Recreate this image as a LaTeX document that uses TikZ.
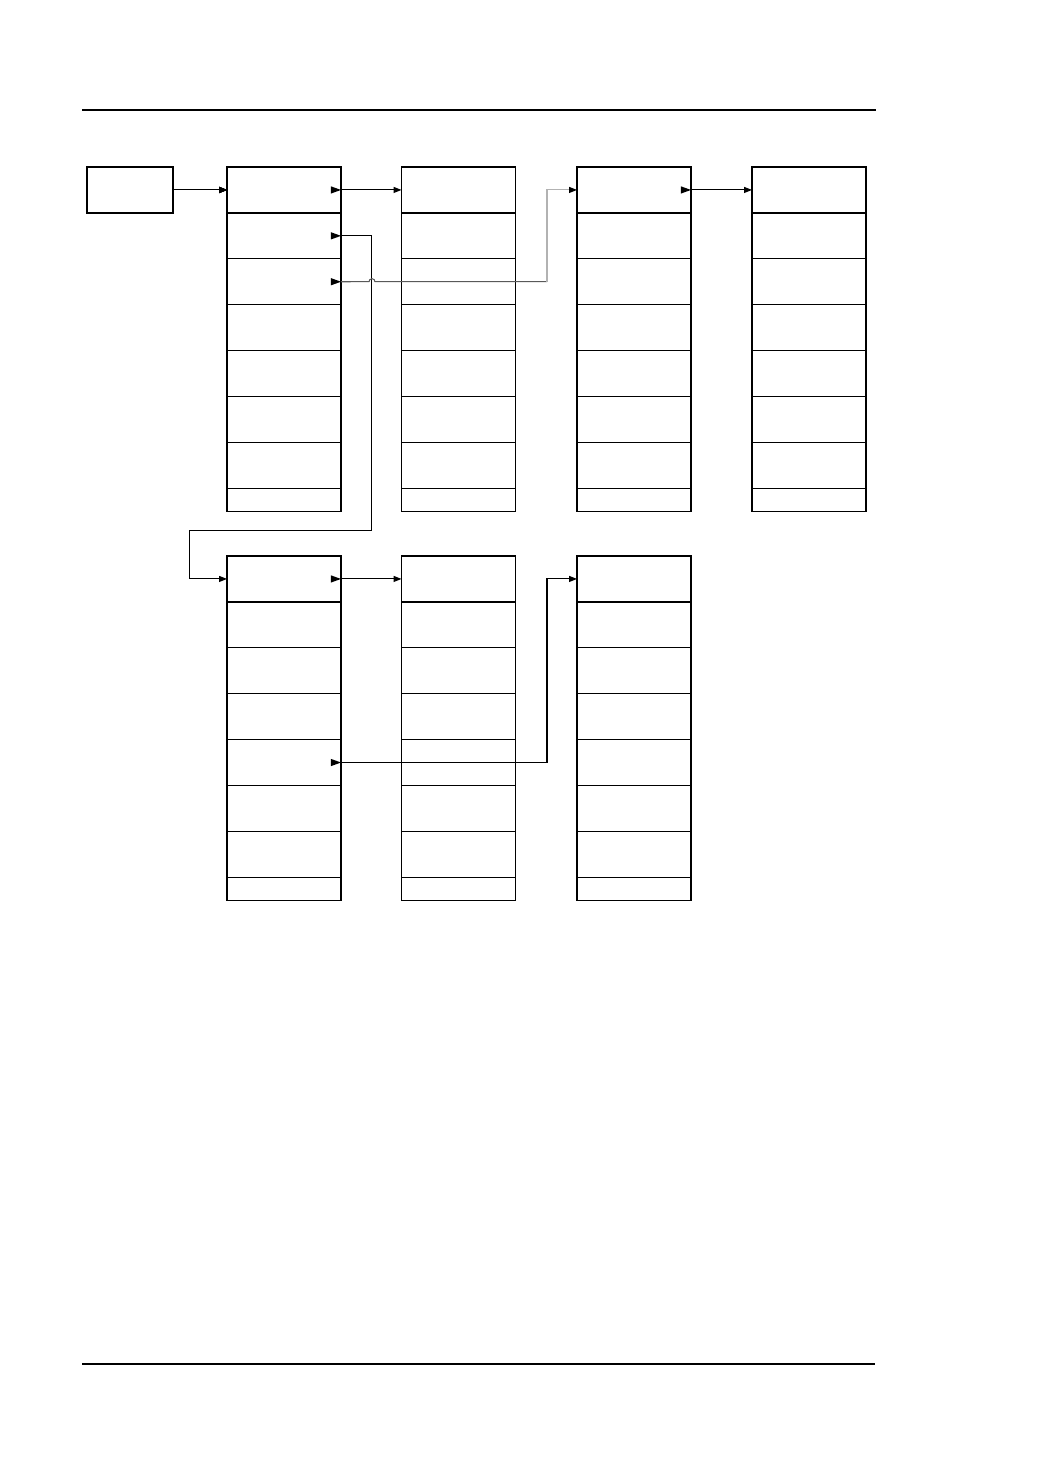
\documentclass[tikz,border=0pt]{standalone}
\usetikzlibrary{positioning}
\usetikzlibrary{arrows, arrows.meta}

\tikzset{
  cell/.style={draw, line width=0.8pt, minimum width=2.28cm, minimum height=0.918cm, inner sep=0pt, outer sep=0pt, anchor=north west},
  tailcell/.style={cell, minimum height=0.46cm},
  headbox/.style={cell, minimum width=1.72cm},
  link/.style={line width=0.6pt, -{Triangle[length=0.16cm, width=0.12cm]}},
}
\newcommand{\ptrmark}[1]{\fill (#1.east) -- ++(-10,3.6) -- ++(0,-7.2) -- cycle;}

\begin{document}
\begin{tikzpicture}[x=0.02cm, y=-0.02cm]
    \useasboundingbox (0,0) rectangle (1043,1474);
    \draw [line width=1.1pt] (82,110) -- (876,110);
    \draw [line width=0.6pt] (82,1364) -- (875,1364);
    % blocks
    \node[headbox] (head) at (87,167) {};
    \foreach \col/\x/\y in {a/227/167, b/401.5/167, c/577/167, d/752/167, e/227/556, f/401.5/556, g/577/556} {
      \node[cell] (\col1) at (\x,\y) {};
      \foreach \r [count=\p] in {2,...,7}
        \node[cell, below=0pt of \col\p] (\col\r) {};
      \node[tailcell, below=0pt of \col7] (\col8) {};
    }
    % pointers
    \foreach \n in {a1, a2, a3, c1, e1, e5} \ptrmark{\n}
    \draw [link] (head.east) -- (a1.west);
    \draw [link] (a1.east) -- (b1.west);
    \draw [link] (c1.east) -- (d1.west);
    \draw [link] (e1.east) -- (f1.west);
    \coordinate (downA) at (371.5,530.5);
    \coordinate (downB) at (189.5,530.5);
    \draw [link] (a2.east) -| (downA) -- (downB) |- (e1.west);
    \coordinate (turn3) at (547,281.7);
    \draw [line width=0.6pt, black!65] (a3.east) -- (369,281.7) arc[start angle=180, end angle=360, radius=3] -- (turn3);
    \draw [line width=0.6pt, black!30, -{Triangle[black, length=0.16cm, width=0.12cm]}] (turn3) |- (c1.west);
    \draw [link] (e5.east) -| ([xshift=-0.6cm]g1.west) -- (g1.west);
  \end{tikzpicture}
\end{document}
